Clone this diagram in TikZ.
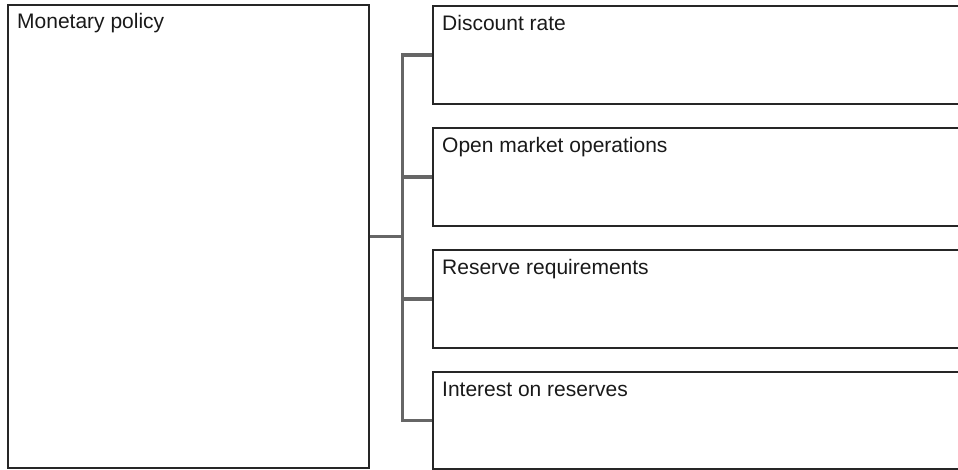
\documentclass[tikz,border=0pt]{standalone}
\usepackage{fontspec}
\setmainfont{Liberation Sans}
\begin{document}
\begin{tikzpicture}[x=1pt,y=-1pt,
  box/.style={draw=black!85, line width=1.6pt, rectangle, inner sep=0pt, anchor=north west},
  lbl/.style={anchor=base west, inner sep=0pt, text=black!90, font=\fontsize{21}{25}\selectfont},
  conn/.style={draw=black!60, line width=3.5pt, line join=miter}]
\useasboundingbox (0,0) rectangle (958,469);
\clip (0,0) rectangle (958,469);
\node[box, minimum width=361pt, minimum height=463pt] (mp) at (7,4) {};
\node[lbl] (tmp) at (17,28) {Monetary policy};
\node[box, minimum width=540pt, minimum height=98pt] (d1) at (432,5) {};
\node[box, minimum width=540pt, minimum height=98pt] (d2) at (432,127) {};
\node[box, minimum width=540pt, minimum height=98pt] (d3) at (432,249) {};
\node[box, minimum width=540pt, minimum height=97pt] (d4) at (432,371) {};
\node[lbl] (t1) at (442,30) {Discount rate};
\node[lbl] (t2) at (442,152) {Open market operations};
\node[lbl] (t3) at (442,274) {Reserve requirements};
\node[lbl] (t4) at (442,396) {Interest on reserves};
\path (mp.east) ++(33,0) coordinate (j);
\draw[conn] (mp.east) -- (j);
\draw[conn] (d1.west) -| (j) |- (d4.west);
\draw[conn] (j |- d2.west) -- (d2.west);
\draw[conn] (j |- d3.west) -- (d3.west);
\end{tikzpicture}
\end{document}
